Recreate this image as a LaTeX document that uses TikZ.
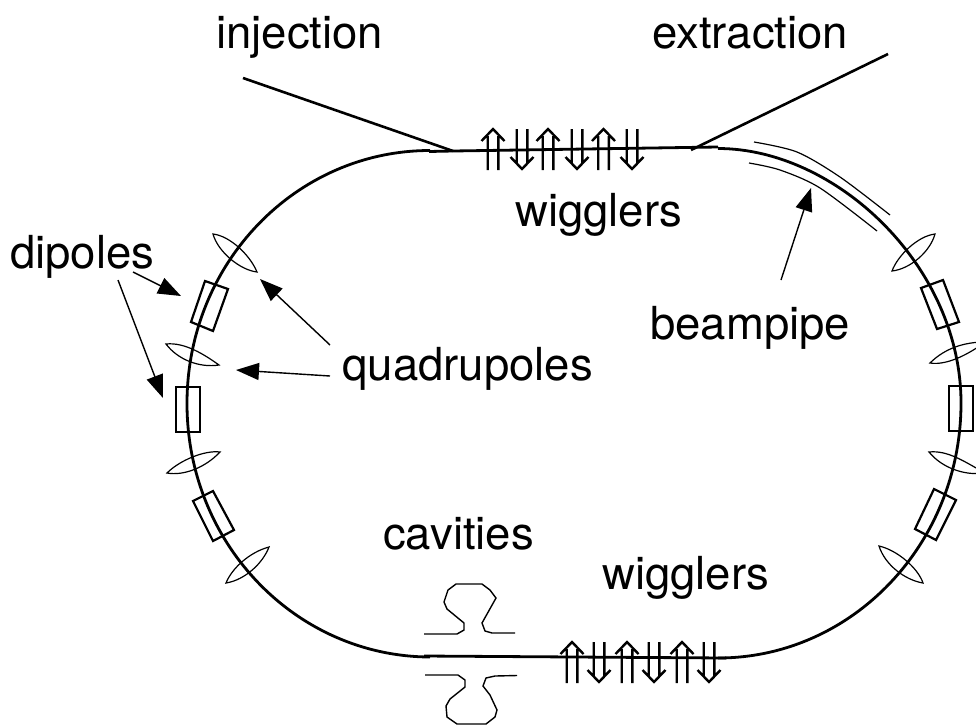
\documentclass[tikz,border=0pt]{standalone}
\usepackage{fontspec}
\setmainfont{TeX Gyre Heros}
\usetikzlibrary{arrows.meta}
\tikzset{
  x=1pt,y=-1pt,
  lbl/.style={anchor=base west,inner sep=0pt,font=\fontsize{45.5}{54}\selectfont},
  ring/.style={line width=2.8pt,black},
  lead/.style={line width=1.4pt,-{Triangle[length=23pt,width=17pt]}},
  feed/.style={line width=2.6pt},
  mag/.style={line width=2.2pt},
  lens/.style={line width=1.2pt},
  pipe/.style={line width=1.2pt},
  cav/.style={line width=1.4pt},
  wig/.style={line width=2.4pt},
}
\newcommand{\upw}[2]{%
  \draw[wig] (#1-5.3,#2+41) -- (#1-5.3,#2+7) (#1+5.3,#2+41) -- (#1+5.3,#2+7)
    (#1-11.5,#2+12) -- (#1,#2) -- (#1+11.5,#2+12);}
\newcommand{\dnw}[2]{%
  \draw[wig] (#1-5.3,#2) -- (#1-5.3,#2+34) (#1+5.3,#2) -- (#1+5.3,#2+34)
    (#1-11.5,#2+28) -- (#1,#2+40) -- (#1+11.5,#2+28);}
\begin{document}
\begin{tikzpicture}
\path[use as bounding box] (0,0) rectangle (976,726);
\clip (0,0) rectangle (976,726);
% ring
\draw[ring] (430,150.5) .. controls (296,150.5) and (187,263) .. (187,403.5)
  .. controls (187,544) and (296,656.5) .. (430,657);
\draw[ring] (718,148.5) .. controls (836,148.5) and (961,266) .. (961,403)
  .. controls (961,544) and (852,658) .. (718,658);
\draw[ring] (429,151.5) -- (453,151) -- (718,147);
\draw[ring] (424,656) -- (726,658);
% injection / extraction
\coordinate (injA) at (243,78); \coordinate (injB) at (453,151);
\coordinate (extA) at (888,54); \coordinate (extB) at (691,150);
\draw[feed] (injA) -- (injB);
\draw[feed] (extA) -- (extB);
% wigglers
\upw{493}{129}\dnw{522}{129}\upw{548}{129}\dnw{577}{129}\upw{603.5}{129}\dnw{632}{129}
\upw{572}{642}\dnw{599}{642}\upw{627}{642}\dnw{654}{642}\upw{682}{642}\dnw{709}{642}
% dipoles
\draw[mag] (205,281) -- (228,289) -- (213,331) -- (191,322) -- cycle;
\draw[mag] (176,387) rectangle (200,432);
\draw[mag] (193,501) -- (213,491) -- (234,530) -- (213,541) -- cycle;
\draw[mag] (921,288) -- (943,280) -- (959,322) -- (937,329) -- cycle;
\draw[mag] (949,386) rectangle (973,431);
\draw[mag] (934,489) -- (956,500) -- (936,540) -- (915,529) -- cycle;
% quadrupoles
\draw[lens] (213,234) .. controls (230,236) and (250,255) .. (257,272) .. controls (240,270) and (218,252) .. cycle;
\draw[lens] (166,344) .. controls (185,342) and (205,355) .. (219,365) .. controls (200,368) and (178,360) .. cycle;
\draw[lens] (167,473) .. controls (180,460) and (205,450) .. (220,452) .. controls (205,468) and (183,476) .. cycle;
\draw[lens] (269,547) .. controls (250,552) and (232,568) .. (226,583) .. controls (245,580) and (263,563) .. cycle;
\draw[lens] (935,234) .. controls (918,236) and (898,255) .. (892,271) .. controls (910,269) and (930,252) .. cycle;
\draw[lens] (930,363) .. controls (945,348) and (965,342) .. (985,342) .. controls (972,352) and (948,366) .. cycle;
\draw[lens] (929,452) .. controls (948,450) and (965,462) .. (985,473) .. controls (965,476) and (942,468) .. cycle;
\draw[lens] (879,546) .. controls (897,550) and (918,568) .. (923,583) .. controls (905,580) and (885,565) .. cycle;
% beampipe
\draw[pipe] plot[smooth] coordinates {(754,142) (797,152) (840,177) (890,215)};
\draw[pipe] plot[smooth] coordinates {(749,163) (780,170) (820,188) (877,231)};
% cavities
\draw[cav] (424,634) -- (457,634) -- (464,630) -- (464,623) -- (447,609) -- (444,602) -- (448,590) -- (456,584) -- (482,584) -- (490,590) -- (496,598) -- (482,623) -- (485,631) -- (492,633) -- (515,633);
\draw[cav] (425,675) -- (458,675) -- (465,680) -- (465,687) -- (450,699) -- (446,706) -- (447,717) -- (457,724) -- (486,724) -- (495,717) -- (497,710) -- (490,695) -- (483,686) -- (486,678) -- (495,676) -- (517,675.5);
% labels
\node[lbl] (inj) at (216,48) {injection};
\node[lbl] (ext) at (652,48) {extraction};
\node[lbl] (wigA) at (515,226) {wigglers};
\node[lbl] (dip) at (10,268) {dipoles};
\node[lbl] (bp) at (650,339) {beampipe};
\node[lbl] (quad) at (342,380) {quadrupoles};
\node[lbl] (cav) at (383,549) {cavities};
\node[lbl] (wigB) at (602,589) {wigglers};
% leaders
\coordinate (d0) at (133,272); \coordinate (d1) at (181,296);
\coordinate (d2) at (118,280); \coordinate (d3) at (163,398);
\coordinate (q0) at (330,345); \coordinate (q1) at (260,279);
\coordinate (q2) at (330,376); \coordinate (q3) at (236,370);
\coordinate (b0) at (781,280); \coordinate (b1) at (811,188);
\draw[lead] (d0) -- (d1);
\draw[lead] (d2) -- (d3);
\draw[lead] (q0) -- (q1);
\draw[lead] (q2) -- (q3);
\draw[lead] (b0) -- (b1);
\end{tikzpicture}
\end{document}
